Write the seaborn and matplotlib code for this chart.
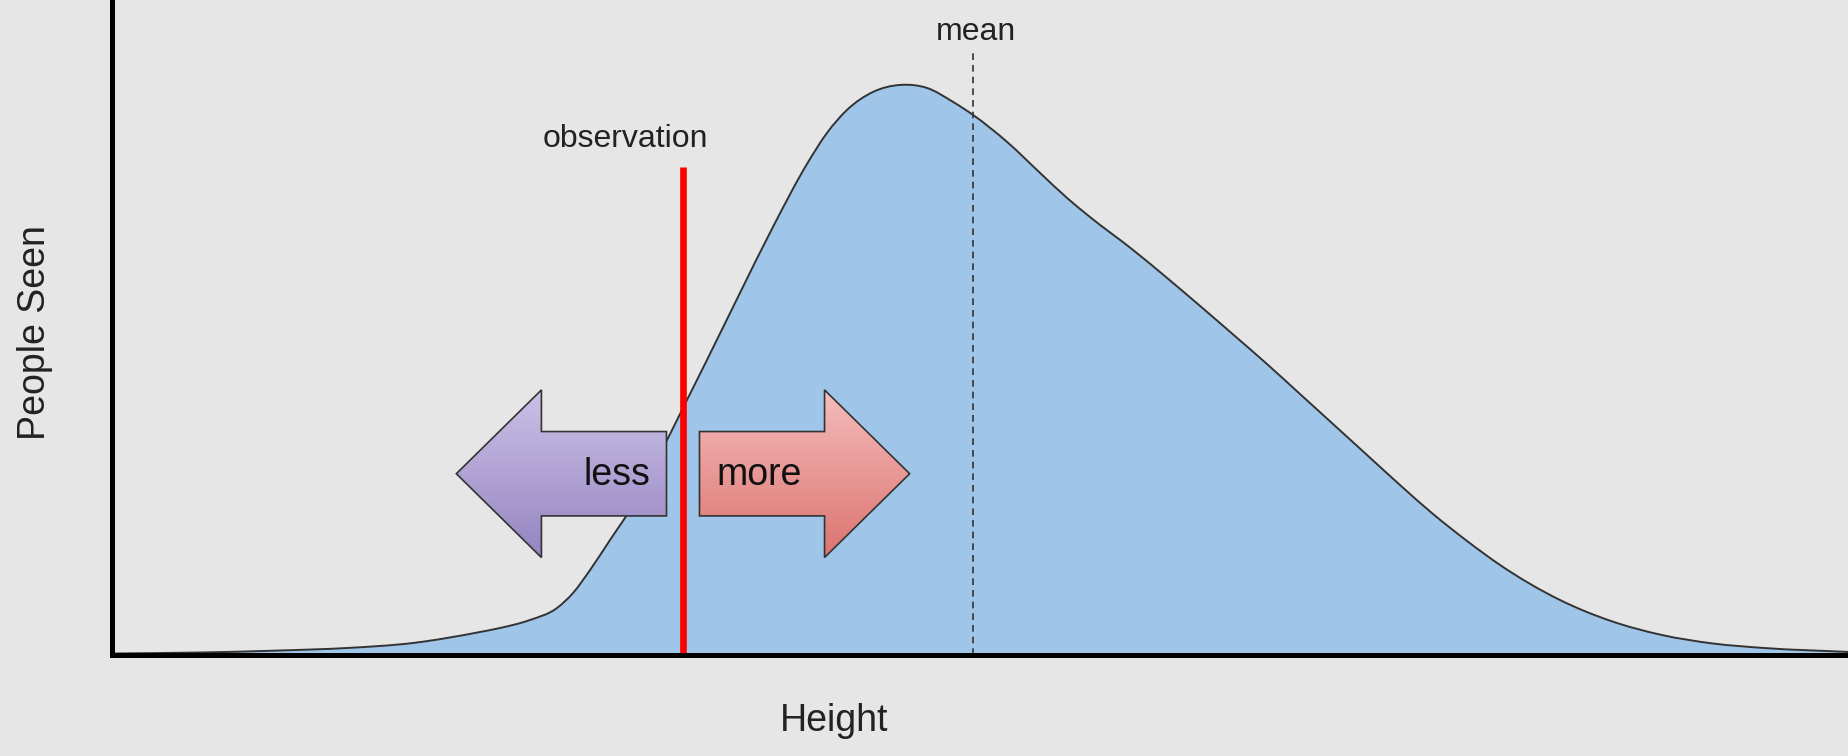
import numpy as np
import matplotlib
matplotlib.use("Agg")
import matplotlib.pyplot as plt
from matplotlib.patches import Polygon, PathPatch
from matplotlib.path import Path
from matplotlib.colors import LinearSegmentedColormap
import seaborn as sns

# distribution of heights (arbitrary units, peak = 100)
height = [0.0, 5.07, 9.67, 13.53, 17.33, 21.19, 22.34, 24.06, 25.62, 26.54,
          27.52, 28.67, 29.82, 32.01, 33.10, 34.25, 36.15, 38.05, 40.01, 41.16,
          42.31, 43.81, 45.37, 46.92, 48.42, 49.57, 51.53, 53.43, 54.98, 56.30,
          58.78, 60.74, 62.64, 64.54, 66.49, 68.39, 70.29, 72.25, 74.15, 76.05,
          78.01, 79.91, 83.36, 86.30, 89.23, 92.17, 95.11, 100.0]
people_seen = [0.26, 0.44, 0.79, 1.23, 2.11, 4.04, 4.74, 6.14, 8.25, 10.88,
               14.91, 20.18, 25.44, 38.07, 44.74, 51.75, 63.51, 75.09, 86.14, 91.58,
               95.61, 98.77, 100.0, 99.47, 97.02, 94.74, 90.00, 84.56, 80.18, 76.84,
               71.05, 66.14, 61.23, 56.23, 51.05, 45.79, 40.53, 35.09, 29.82, 24.74,
               20.00, 15.79, 9.65, 5.96, 3.51, 2.02, 1.23, 0.53]
mean_height = 49.57
observation = 32.87

labels = {"x": "Height", "y": "People Seen", "obs": "observation",
          "mean": "mean", "less": "less", "more": "more"}

BG = "#e6e6e6"
FILL = "#9fc5e8"
FONT = ["Liberation Sans", "DejaVu Sans"]


def smooth_path(xs, ys, close=False):
    """Cubic Bezier path through every read point (slopes from np.gradient)."""
    x = np.asarray(xs, float)
    y = np.asarray(ys, float)
    m = np.gradient(y, x)
    verts = [(x[0], y[0])]
    codes = [Path.MOVETO]
    for i in range(len(x) - 1):
        h = (x[i + 1] - x[i]) / 3
        verts += [(x[i] + h, y[i] + m[i] * h),
                  (x[i + 1] - h, y[i + 1] - m[i + 1] * h),
                  (x[i + 1], y[i + 1])]
        codes += [Path.CURVE4] * 3
    if close:
        verts += [(x[-1], 0), (x[0], 0), (x[0], y[0])]
        codes += [Path.LINETO, Path.LINETO, Path.CLOSEPOLY]
    return Path(verts, codes)


def arrow_points(x_start, direction, yc, shaft=7.2, head=4.9, sh=7.4, hh=14.7):
    x1 = x_start + direction * shaft
    xt = x1 + direction * head
    return [(x_start, yc - sh), (x1, yc - sh), (x1, yc - hh), (xt, yc),
            (x1, yc + hh), (x1, yc + sh), (x_start, yc + sh)]


def gradient_arrow(ax, pts, top, bottom, yc, hh=14.7):
    poly = Polygon(pts, closed=True, facecolor="none", edgecolor="#333333",
                   linewidth=1.2, zorder=6)
    ax.add_patch(poly)
    xs = [p[0] for p in pts]
    cmap = LinearSegmentedColormap.from_list("g", [top, bottom])
    grad = np.linspace(0, 1, 256).reshape(-1, 1)
    im = ax.imshow(grad, extent=[min(xs), max(xs), yc - hh, yc + hh],
                   origin="upper", aspect="auto", cmap=cmap, zorder=5)
    im.set_clip_path(poly)


def main():
    sns.set_theme(style="white", rc={"axes.facecolor": BG, "figure.facecolor": BG})
    plt.rcParams["font.family"] = FONT

    fig = plt.figure(figsize=(18.49, 7.56), dpi=100)
    ax = fig.add_axes([0.0606, 0.1336, 0.9394, 0.8664])

    ax.add_patch(PathPatch(smooth_path(height, people_seen, close=True),
                           facecolor=FILL, edgecolor="none", zorder=1))
    ax.add_patch(PathPatch(smooth_path(height, people_seen), facecolor="none",
                           edgecolor="#333333", linewidth=1.4, zorder=2))

    # mean marker
    sns.lineplot(x=[mean_height, mean_height], y=[0, 105.6], orient="y", ax=ax,
                 color="#333333", lw=1.2, ls=(0, (4, 3)), zorder=3)
    ax.text(mean_height + 0.15, 109.3, labels["mean"], ha="center", va="center",
            fontsize=23, color="#222222")

    # observation marker
    sns.lineplot(x=[observation, observation], y=[0, 85.6], orient="y", ax=ax,
                 color="#ff0000", lw=4.8, zorder=4, solid_capstyle="butt")
    ax.text(observation - 3.3, 90.5, labels["obs"], ha="center", va="center",
            fontsize=23, color="#222222")

    yc = 31.8
    left = arrow_points(observation - 0.95, -1, yc)
    right = arrow_points(observation + 0.95, 1, yc)
    gradient_arrow(ax, left, "#cbc1e7", "#9584c0", yc)
    gradient_arrow(ax, right, "#f4bdbc", "#dc736f", yc)
    ax.text(observation - 3.8, yc - 0.3, labels["less"], ha="center", va="center",
            fontsize=27, color="#111111", zorder=7)
    ax.text(observation + 4.38, yc - 0.3, labels["more"], ha="center", va="center",
            fontsize=27, color="#111111", zorder=7)

    ax.set_xlim(0, 100)
    ax.set_ylim(0, 114.9)
    ax.set_xticks([])
    ax.set_yticks([])
    for side in ["top", "right"]:
        ax.spines[side].set_visible(False)
    for side in ["left", "bottom"]:
        ax.spines[side].set_color("black")
        ax.spines[side].set_linewidth(3.6)
        ax.spines[side].set_zorder(8)

    ax.set_xlabel(labels["x"], fontsize=27, color="#222222")
    ax.xaxis.set_label_coords(0.4157, -0.1008)
    ax.xaxis.label.set_va("center")
    ax.set_ylabel(labels["y"], fontsize=27, color="#222222")
    ax.yaxis.set_label_coords(-0.0443, 0.4916)
    ax.yaxis.label.set_va("center")

    fig.savefig("out.png", dpi=100, facecolor=BG)
    plt.close(fig)


if __name__ == "__main__":
    main()
